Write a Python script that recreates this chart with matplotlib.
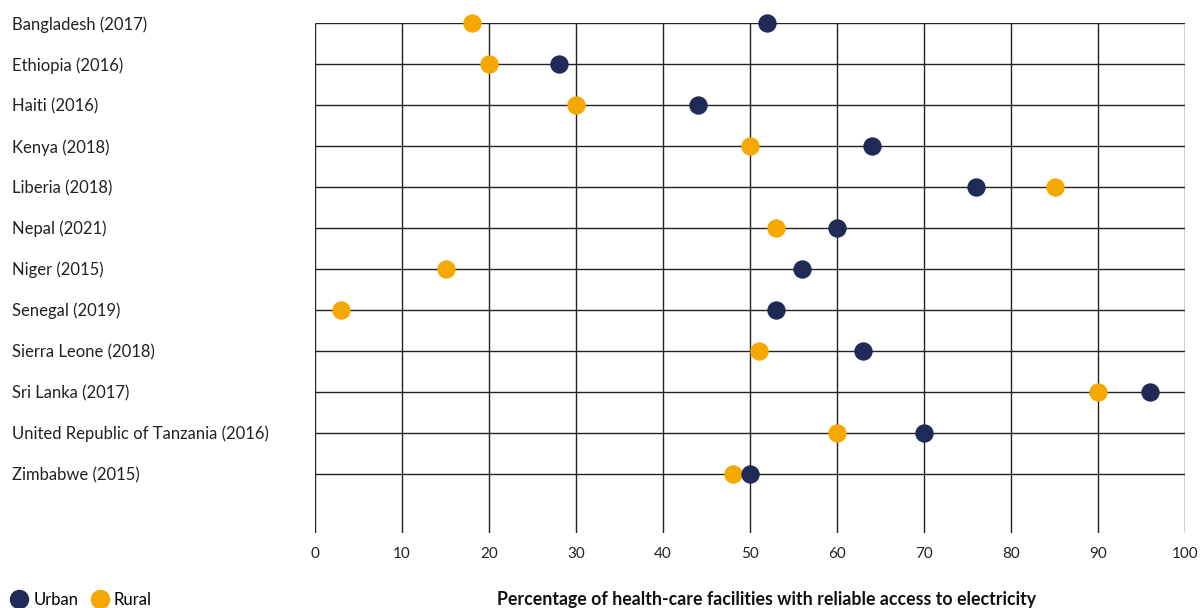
import numpy as np
import matplotlib
matplotlib.use("Agg")
import matplotlib.pyplot as plt
from matplotlib.lines import Line2D
from matplotlib import transforms

plt.rcParams['font.family'] = ['Lato', 'DejaVu Sans']

countries = ["Bangladesh (2017)", "Ethiopia (2016)", "Haiti (2016)", "Kenya (2018)",
             "Liberia (2018)", "Nepal (2021)", "Niger (2015)", "Senegal (2019)",
             "Sierra Leone (2018)", "Sri Lanka (2017)",
             "United Republic of Tanzania (2016)", "Zimbabwe (2015)"]
urban = [52, 28, 44, 64, 76, 60, 56, 53, 63, 96, 70, 50]
rural = [18, 20, 30, 50, 85, 53, 15, 3, 51, 90, 60, 48]
xticks = [0, 10, 20, 30, 40, 50, 60, 70, 80, 90, 100]

navy = "#1f2a56"
gold = "#f5a800"
line_col = "#222222"

fig = plt.figure(figsize=(12, 6.08), dpi=100)
ax = fig.add_axes([315/1200, 1 - 533/608, 870/1200, 510/608])

n = len(countries)
ybot = 12.44
ypos = np.arange(n)

ax.hlines(ypos, 0, 100, color=line_col, lw=1.0, zorder=1)
ax.vlines(xticks, 0, ybot, color=line_col, lw=1.0, zorder=1)

ax.scatter(rural, ypos, s=175, color=gold, zorder=3, clip_on=False, linewidths=0)
ax.scatter(urban, ypos, s=175, color=navy, zorder=4, clip_on=False, linewidths=0)

ax.set_xlim(0, 100)
ax.set_ylim(ybot, 0)
for s in ax.spines.values():
    s.set_visible(False)
ax.set_yticks([])
ax.set_xticks(xticks)
ax.set_xticklabels([str(t) for t in xticks], fontsize=11, color="#222222")
ax.tick_params(axis='x', length=0, pad=10)

trans = transforms.blended_transform_factory(fig.transFigure, ax.transData)
for i, c in enumerate(countries):
    ax.text(12/1200, i + 0.03, c, transform=trans, ha='left', va='center',
            fontsize=12, color="#222222")

fig.text(767/1200, 1 - 599/608, "Percentage of health-care facilities with reliable access to electricity",
         ha='center', va='center', fontsize=12.8, fontweight='bold', color="#111111")

handles = [Line2D([], [], marker='o', ls='', color=navy, markersize=13, label='Urban'),
           Line2D([], [], marker='o', ls='', color=gold, markersize=13, label='Rural')]
fig.legend(handles=handles, loc='center left', bbox_to_anchor=(4/1200, 1 - 600/608),
           ncol=2, frameon=False, fontsize=12, handletextpad=0.15,
           columnspacing=0.6, handlelength=1.4, borderaxespad=0, borderpad=0.2)

fig.savefig("out.png", dpi=100)
